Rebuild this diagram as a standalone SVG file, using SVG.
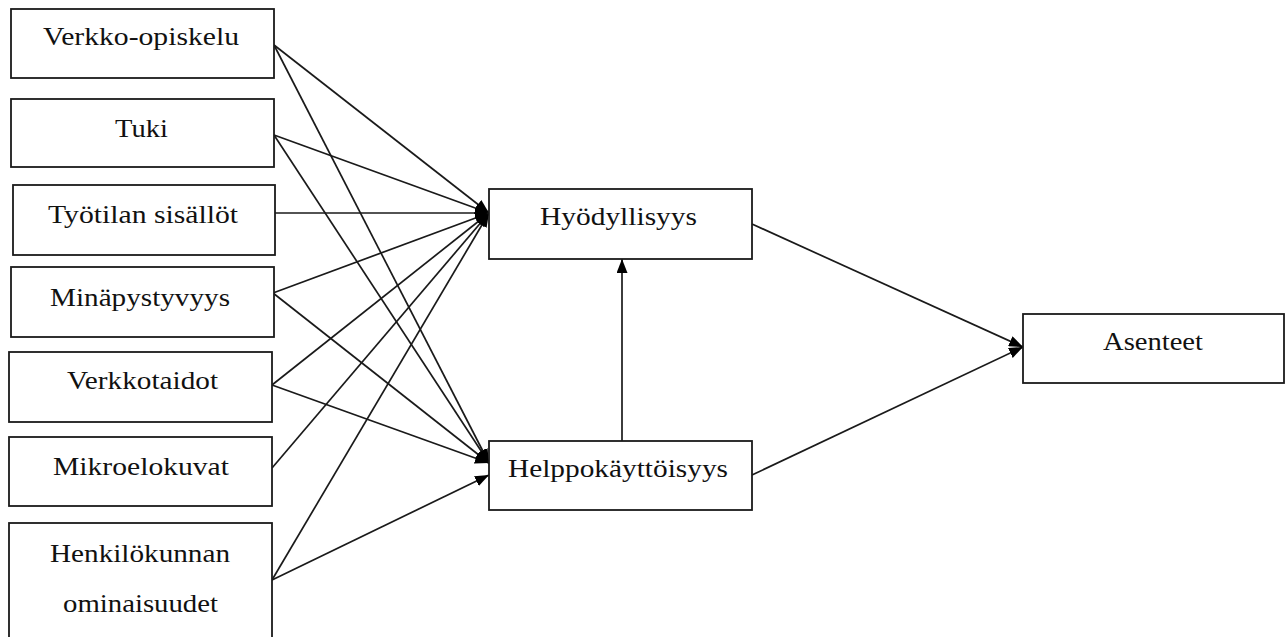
<svg xmlns="http://www.w3.org/2000/svg" width="1285" height="637" viewBox="0 0 1285 637">
<style>
.box{fill:#fff;stroke:#1a1a1a;stroke-width:1.8}
.lbl{font-family:"Liberation Serif","Times New Roman",serif;font-size:25px;fill:#111;text-anchor:middle}
.ln{stroke:#1a1a1a;stroke-width:1.7;fill:none}
</style>
<defs>
<marker id="ah" viewBox="0 0 14 11" refX="14" refY="5.5" markerWidth="14" markerHeight="11" markerUnits="userSpaceOnUse" orient="auto">
<path d="M0,0 L14,5.5 L0,11 z" fill="#000"/>
</marker>
</defs>
<rect width="1285" height="637" fill="#fff"/>
<g id="connectors">
<line class="ln" x1="274" y1="45" x2="489" y2="213" marker-end="url(#ah)"/>
<line class="ln" x1="274" y1="45" x2="489" y2="463" marker-end="url(#ah)"/>
<line class="ln" x1="274" y1="135" x2="489" y2="213" marker-end="url(#ah)"/>
<line class="ln" x1="274" y1="135" x2="489" y2="463" marker-end="url(#ah)"/>
<line class="ln" x1="275" y1="213" x2="489" y2="213" marker-end="url(#ah)"/>
<line class="ln" x1="273" y1="293" x2="489" y2="213" marker-end="url(#ah)"/>
<line class="ln" x1="273" y1="293" x2="489" y2="463" marker-end="url(#ah)"/>
<line class="ln" x1="272" y1="385" x2="489" y2="213" marker-end="url(#ah)"/>
<line class="ln" x1="272" y1="385" x2="489" y2="463" marker-end="url(#ah)"/>
<line class="ln" x1="272" y1="468" x2="489" y2="213" marker-end="url(#ah)"/>
<line class="ln" x1="272" y1="580" x2="489" y2="213" marker-end="url(#ah)"/>
<line class="ln" x1="272" y1="580" x2="489" y2="475" marker-end="url(#ah)"/>
<line class="ln" x1="622" y1="441" x2="622" y2="259" marker-end="url(#ah)"/>
<line class="ln" x1="752" y1="224" x2="1023" y2="347" marker-end="url(#ah)"/>
<line class="ln" x1="752" y1="475" x2="1023" y2="347" marker-end="url(#ah)"/>
</g>
<g id="n1"><rect class="box" x="11" y="9" width="263" height="69"/><text class="lbl" x="141" y="45" textLength="196" lengthAdjust="spacingAndGlyphs">Verkko-opiskelu</text></g>
<g id="n2"><rect class="box" x="11" y="99" width="263" height="68"/><text class="lbl" x="141.5" y="137" textLength="53" lengthAdjust="spacingAndGlyphs">Tuki</text></g>
<g id="n3"><rect class="box" x="13" y="185" width="262" height="70"/><text class="lbl" x="143" y="223" textLength="190" lengthAdjust="spacingAndGlyphs">Työtilan sisällöt</text></g>
<g id="n4"><rect class="box" x="11" y="267" width="263" height="70"/><text class="lbl" x="140" y="306" textLength="180" lengthAdjust="spacingAndGlyphs">Minäpystyvyys</text></g>
<g id="n5"><rect class="box" x="9" y="352" width="263" height="70"/><text class="lbl" x="142.5" y="389" textLength="151" lengthAdjust="spacingAndGlyphs">Verkkotaidot</text></g>
<g id="n6"><rect class="box" x="9" y="437" width="263" height="69"/><text class="lbl" x="141" y="475" textLength="176" lengthAdjust="spacingAndGlyphs">Mikroelokuvat</text></g>
<g id="n7"><rect class="box" x="9" y="523" width="263" height="125"/><text class="lbl" x="140" y="562" textLength="180" lengthAdjust="spacingAndGlyphs">Henkilökunnan</text><text class="lbl" x="140.5" y="612" textLength="155" lengthAdjust="spacingAndGlyphs">ominaisuudet</text></g>
<g id="n8"><rect class="box" x="489" y="189" width="263" height="70"/><text class="lbl" x="618.5" y="225" textLength="157" lengthAdjust="spacingAndGlyphs">Hyödyllisyys</text></g>
<g id="n9"><rect class="box" x="489" y="441" width="263" height="69"/><text class="lbl" x="618" y="477" textLength="220" lengthAdjust="spacingAndGlyphs">Helppokäyttöisyys</text></g>
<g id="n10"><rect class="box" x="1023" y="314" width="261" height="69"/><text class="lbl" x="1153" y="350" textLength="100" lengthAdjust="spacingAndGlyphs">Asenteet</text></g>
</svg>
